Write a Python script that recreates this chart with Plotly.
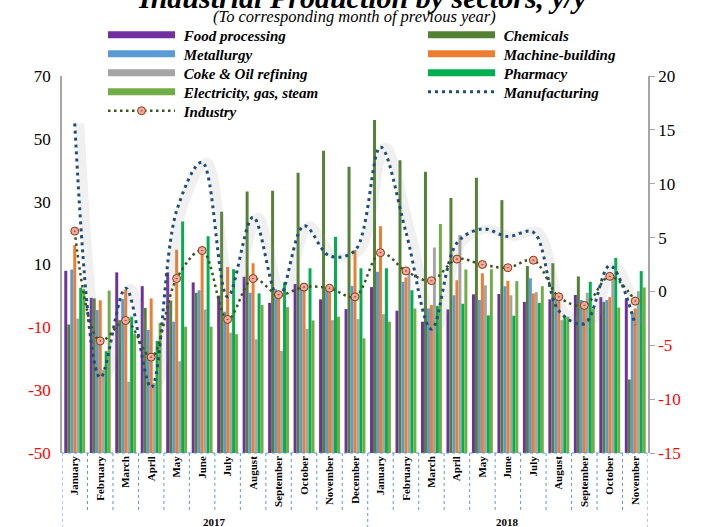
import numpy as np
import plotly.graph_objects as go

# ---------------- data ----------------
months = ["January", "February", "March", "April", "May", "June", "July", "August",
          "September", "October", "November", "December",
          "January", "February", "March", "April", "May", "June", "July", "August",
          "September", "October", "November"]
years = ["2017"] * 12 + ["2018"] * 11

food = [8.0, -0.6, 7.5, 3.1, 7.5, 4.3, 0.1, 6.1, -2.2, 3.8, -1.1, -4.2,
        2.8, -4.7, -8.2, -4.3, 0.5, 0.6, -1.9, -1.1, 0.3, -0.4, -0.8]
chemicals = [-9.1, -0.8, -7.7, -3.8, -1.5, 1.0, 26.8, 33.2, 33.5, 39.2, 46.2, 41.1,
             56.0, 43.2, 39.5, 31.2, 37.6, 30.5, 9.5, 10.4, 6.2, -1.9, -26.6]
metallurgy = [8.4, -4.5, -1.0, -10.8, -8.2, 1.8, -5.0, 1.0, 2.1, 2.9, 2.4, 3.2,
              7.7, 4.5, -4.0, 0.2, -1.3, 3.1, 5.6, 0.3, -1.3, -1.3, -5.4]
machine = [16.2, -1.4, 2.0, -0.8, 14.7, 15.6, 9.2, 10.4, 1.3, 3.2, 2.6, 14.6,
           22.2, 5.9, -2.9, 5.0, 7.2, 4.8, 0.8, -1.3, -1.9, -0.4, -4.0]
coke = [-7.2, -23.6, -27.3, -27.7, -20.8, -4.3, -11.7, -13.8, -17.5, -10.5, -7.7, -7.4,
        -5.8, 7.7, 15.4, 19.4, 3.4, 0.2, 1.2, -7.7, 1.0, 6.1, 1.5]
pharmacy = [2.6, -17.6, -6.6, -14.3, 23.7, 19.0, 8.5, 0.8, 4.3, 8.8, 18.8, 8.8,
            8.8, 1.8, -3.2, -2.5, -6.2, -6.3, -2.2, -6.8, 4.5, 12.1, 7.9]
electricity = [2.2, 1.7, -12.0, -8.6, -9.8, -9.8, -12.2, -2.9, -3.6, -7.8, -6.6, -13.5,
               -8.2, -4.0, 22.9, 8.4, 8.5, 4.7, 3.1, -6.6, -4.0, -3.7, 2.7]
manufacturing = [15.6, -8.0, 0.3, -8.9, 7.5, 12.0, -0.5, 6.9, -0.6, 6.1, 3.3, 3.8,
                 13.4, 5.5, -3.5, 4.5, 5.8, 5.1, 5.5, -1.8, -3.0, 2.4, -3.1]
industry = [5.6, -4.6, -2.7, -6.1, 1.2, 3.8, -2.6, 1.2, -0.3, 0.4, 0.3, -0.5,
            3.6, 1.9, 1.0, 3.0, 2.5, 2.2, 2.9, -0.5, -1.3, 1.4, -0.9]

left_ticks = [-50, -30, -10, 10, 30, 50, 70]
right_ticks = [-15, -10, -5, 0, 5, 10, 15, 20]

bar_series = [
    ("Food processing", food, "#7030A0"),
    ("Chemicals", chemicals, "#548235"),
    ("Metallurgy", metallurgy, "#5B9BD5"),
    ("Machine-building", machine, "#ED7D31"),
    ("Coke & Oil refining", coke, "#A5A5A5"),
    ("Pharmacy", pharmacy, "#00B050"),
    ("Electricity, gas, steam", electricity, "#70AD47"),
]

FONT = "Liberation Serif"
LEFT_MIN, LEFT_MAX = -50, 70
RIGHT_MIN, RIGHT_MAX = -15, 20
W, H = 702, 527
ML, MR, MT, MB = 62, 54, 76, 74
PW, PH = W - ML - MR, H - MT - MB

x = np.arange(len(months))
n = len(months)

# legend layout: two columns, five rows (row-major order like the reference)
LEG_X0, LEG_DX = 103, 320
LEG_Y0, LEG_DY = 35, 19
NB = "\u00a0"


def legend_pos(k):
    col, row = k % 2, k // 2
    px = LEG_X0 + col * LEG_DX
    py = LEG_Y0 + row * LEG_DY
    return (px - ML) / PW, 1 + (MT - py) / PH


legend_ids = ["legend"] + [f"legend{k}" for k in range(2, 10)]

fig = go.Figure()

# bars rise from the bottom of the axis (horizontal axis crosses at -50)
for name, vals, col in bar_series:
    fig.add_trace(go.Bar(
        x=x, y=np.array(vals) - LEFT_MIN, base=LEFT_MIN,
        name=name, marker=dict(color=col, line=dict(width=0)),
        showlegend=False, yaxis="y",
    ))

# soft shadow behind the manufacturing curve
fig.add_trace(go.Scatter(
    x=x + 0.2, y=manufacturing, mode="lines", yaxis="y2",
    line=dict(color="rgba(150,150,150,0.14)", width=9, shape="spline", smoothing=1),
    showlegend=False, hoverinfo="skip",
))

fig.add_trace(go.Scatter(
    x=x, y=manufacturing, mode="lines", name=f"{NB}<b><i>Manufacturing</i></b>", yaxis="y2",
    line=dict(color="#1F4E79", width=3, dash="3px,4px", shape="spline", smoothing=1),
    legend=legend_ids[7],
))
fig.add_trace(go.Scatter(
    x=x, y=industry, mode="lines+markers", name=f"{NB}<b><i>Industry</i></b>", yaxis="y2",
    line=dict(color="#375623", width=2.5, dash="2.5px,3.5px", shape="spline", smoothing=1),
    marker=dict(symbol="circle-dot", size=8, color="#F4A7A0",
                line=dict(color="#843C0C", width=1)),
    legend=legend_ids[8],
))

# legend entries for bars drawn as long flat bars
for i, (name, vals, col) in enumerate(bar_series):
    fig.add_trace(go.Scatter(
        x=[None], y=[None], mode="lines", name=f"{NB}<b><i>{name}</i></b>", yaxis="y",
        line=dict(color=col, width=7), legend=legend_ids[i],
    ))

legends = {}
for k, lid in enumerate(legend_ids):
    lx, ly = legend_pos(k)
    legends[lid] = dict(x=lx, y=ly, xref="paper", yref="paper",
                        xanchor="left", yanchor="middle",
                        itemwidth=67, bgcolor="rgba(0,0,0,0)",
                        font=dict(family=FONT, size=15, color="black"),
                        itemclick=False, itemdoubleclick=False)


def colored(v):
    s = f"{v}"
    return f"<span style='color:red'>{s}</span>" if v < 0 else s


# month separators and year boundaries (dotted, below the plot)
shapes = []
for i in range(1, n):
    is_year = years[i] != years[i - 1]
    shapes.append(dict(type="line", xref="x", yref="paper", x0=i - 0.5, x1=i - 0.5,
                       y0=0, y1=-0.196 if is_year else -0.154,
                       line=dict(color="#5B9BD5", width=1, dash="dot")))
for xe in (-0.5, n - 0.5):
    shapes.append(dict(type="line", xref="x", yref="paper", x0=xe, x1=xe,
                       y0=0, y1=-0.196, line=dict(color="#5B9BD5", width=1, dash="dot")))
shapes.append(dict(type="line", xref="x", yref="paper", x0=-0.5, x1=n - 0.5,
                   y0=0, y1=0, line=dict(color="#5B9BD5", width=1, dash="dot")))

annotations = [
    dict(text="<b><i>Industrial Production by sectors, y/y</i></b>", xref="paper", yref="paper",
         x=(362 - ML) / PW, y=1 + (MT + 3) / PH, xanchor="center", yanchor="middle",
         showarrow=False, font=dict(family=FONT, size=30, color="black")),
    dict(text="<i>(To corresponding month of previous year)</i>", xref="paper", yref="paper",
         x=(354 - ML) / PW, y=1 + (MT - 16) / PH, xanchor="center", yanchor="middle",
         showarrow=False, font=dict(family=FONT, size=16.5, color="black")),
]
for yr in dict.fromkeys(years):
    idx = [i for i, y in enumerate(years) if y == yr]
    annotations.append(dict(text=f"<b>{yr}</b>", xref="x", yref="paper",
                            x=float(np.mean(idx)), y=-0.182, xanchor="center", yanchor="middle",
                            showarrow=False, font=dict(family=FONT, size=11, color="black")))

fig.update_layout(
    width=W, height=H,
    margin=dict(l=ML, r=MR, t=MT, b=MB),
    paper_bgcolor="white", plot_bgcolor="white",
    barmode="group", bargap=0.18, bargroupgap=0,
    font=dict(family=FONT, color="black"),
    showlegend=True,
    xaxis=dict(range=[-0.5, n - 0.5], tickvals=list(x),
               ticktext=[f"<b>{m}</b>" for m in months], tickangle=-90,
               tickfont=dict(family=FONT, size=11, color="black"),
               showgrid=False, zeroline=False, showline=False, ticks=""),
    yaxis=dict(range=[LEFT_MIN, LEFT_MAX], tickvals=left_ticks,
               ticktext=[colored(v) for v in left_ticks],
               tickfont=dict(family=FONT, size=17, color="black"),
               showgrid=False, zeroline=False, showline=True,
               linecolor="#A6A6A6", linewidth=1.5,
               ticks="outside", ticklen=6, tickcolor="rgba(0,0,0,0)"),
    yaxis2=dict(range=[RIGHT_MIN, RIGHT_MAX], tickvals=right_ticks,
                ticktext=[colored(v) for v in right_ticks],
                overlaying="y", side="right",
                tickfont=dict(family=FONT, size=17, color="black"),
                showgrid=False, zeroline=False, showline=True,
                linecolor="#A6A6A6", linewidth=1.5,
                ticks="outside", ticklen=5, tickcolor="#A6A6A6"),
    shapes=shapes, annotations=annotations,
    **legends,
)

fig.write_html(
    "out.html",
    config={"displayModeBar": False},
    post_script="document.body.style.margin='0';document.body.style.padding='0';",
)
